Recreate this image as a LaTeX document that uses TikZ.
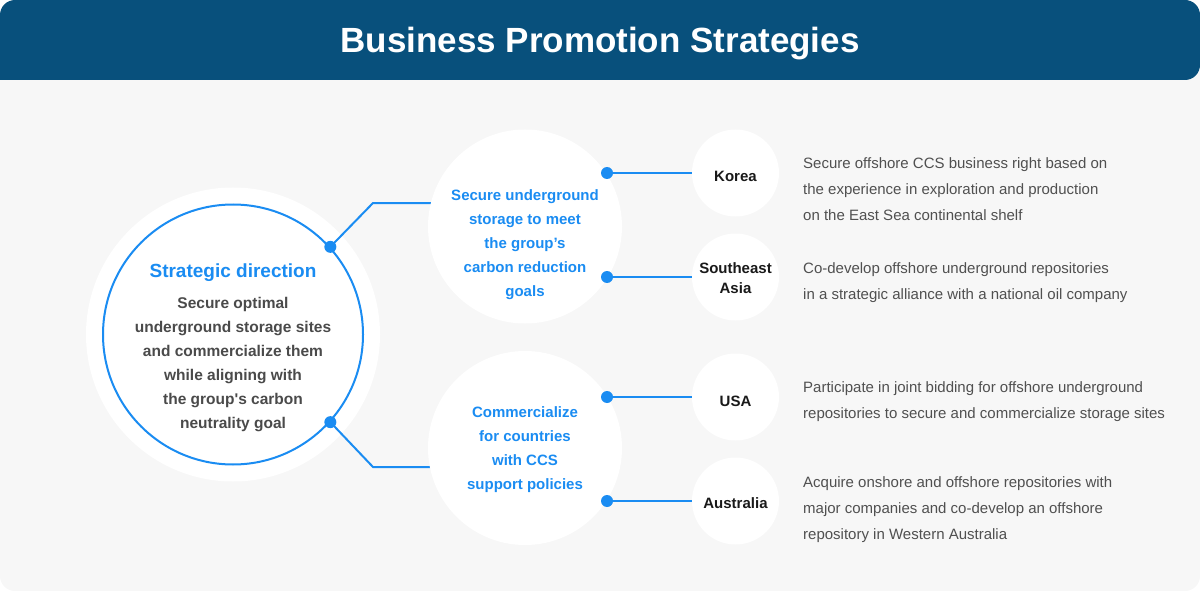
\documentclass[tikz,border=0pt]{standalone}
\usepackage{fontspec}
\setmainfont{Liberation Sans}
\newfontfamily\rawfont{Liberation Sans}
\usetikzlibrary{positioning,calc}
\definecolor{headblue}{HTML}{08507C}
\definecolor{lineblue}{HTML}{1A8CF2}
\definecolor{cardgray}{HTML}{F7F7F7}
\definecolor{bodygray}{HTML}{4A4A4A}
\definecolor{descgray}{HTML}{505050}
\pgfdeclarelayer{back}
\pgfdeclarelayer{lines}
\pgfsetlayers{back,lines,main}

\begin{document}
\begin{tikzpicture}[x=1pt, y=-1pt,
    strat/.style={circle, draw=lineblue, line width=2pt, fill=white, inner sep=0, minimum size=260},
    goal/.style={circle, fill=white, inner sep=0, minimum size=194},
    country/.style={circle, fill=white, inner sep=0, minimum size=87},
    dot/.style={circle, fill=lineblue, inner sep=0, minimum size=12},
    link/.style={lineblue, line width=2pt},
    goaltext/.style={text=lineblue, align=center, inner sep=0, font=\fontsize{15}{24}\selectfont\bfseries, anchor=base},
    countrytext/.style={text=black!90, align=center, inner sep=0, font=\fontsize{15}{20}\selectfont\bfseries, anchor=base},
    desc/.style={text=descgray, align=left, inner sep=0, font=\fontsize{15}{26}\selectfont, anchor=base west}]
  \useasboundingbox (0,0) rectangle (1200,591);

  % card and header
  \begin{pgfonlayer}{back}
    \fill[cardgray, rounded corners=15pt] (0,0) rectangle (1200,591);
    \fill[headblue, rounded corners=15pt] (0,80) -- (0,0) -- (1200,0) -- (1200,80) [sharp corners] -- cycle;
    \fill[white] (233,334.5) circle[radius=147];
  \end{pgfonlayer}
  \node[text=white, inner sep=0, font=\fontsize{35}{40}\selectfont\bfseries, anchor=base] (title) at (600,53) {Business Promotion Strategies};

  % strategic direction
  \node[strat] (strat) at (233,334.5) {};
  \node[text=lineblue, inner sep=0, font=\fontsize{19}{24}\selectfont\bfseries, anchor=base] (strathead) at (233,277) {Strategic direction};
  \node[text=bodygray, align=center, inner sep=0, font=\fontsize{15.5}{24}\selectfont\rawfont\bfseries, anchor=base] (stratbody) at (233,428)
    {Secure optimal\\underground storage sites\\and commercialize them\\while aligning with\\the group's carbon\\neutrality goal};

  % goals
  \node[goal] (goalA) at (525,226.5) {};
  \node[goaltext] (goalAtext) at (525,296) {Secure underground\\storage to meet\\the group’s\\carbon reduction\\goals};
  \node[goal] (goalB) at (525,448) {};
  \node[goaltext] (goalBtext) at (525,489) {Commercialize\\for countries\\with CCS\\support policies};

  % countries
  \node[country] (korea) at (735.5,173) {};
  \node[country] (seasia) at (735.5,277) {};
  \node[country] (usa) at (735.5,397) {};
  \node[country] (austr) at (735.5,501) {};
  \node[countrytext] at (735.5,182) {Korea};
  \node[countrytext] at (735.5,293) {Southeast\\Asia};
  \node[countrytext] at (735.5,406) {USA};
  \node[countrytext] at (735.5,508) {Australia};

  % dots
  \node[dot] (dotA) at (strat.42) {};
  \node[dot] (dotB) at (strat.-42) {};
  \node[dot] (dotK) at (607,173) {};
  \node[dot] (dotS) at (607,277) {};
  \node[dot] (dotU) at (607,397) {};
  \node[dot] (dotAu) at (607,501) {};
  \coordinate (kinkA) at (373,203);
  \coordinate (kinkB) at (373,467);

  % connectors
  \begin{pgfonlayer}{lines}
    \draw[link] (dotA.center) -- (kinkA) -- (kinkA -| goalA.center);
    \draw[link] (dotB.center) -- (kinkB) -- (kinkB -| goalB.center);
    \draw[link] (dotK.center) -- (korea.center);
    \draw[link] (dotS.center) -- (seasia.center);
    \draw[link] (dotU.center) -- (usa.center);
    \draw[link] (dotAu.center) -- (austr.center);
  \end{pgfonlayer}

  % descriptions
  \node[desc] (descK) at (803,220) {Secure offshore CCS business right based on\\the experience in exploration and production\\on the East Sea continental shelf};
  \node[desc] (descS) at (803,299) {Co-develop offshore underground repositories\\in a strategic alliance with a national oil company};
  \node[desc] (descU) at (803,418) {Participate in joint bidding for offshore underground\\repositories to secure and commercialize storage sites};
  \node[desc] (descAu) at (803,539) {Acquire onshore and offshore repositories with\\major companies and co-develop an offshore\\repository in Western Australia};
\end{tikzpicture}
\end{document}
